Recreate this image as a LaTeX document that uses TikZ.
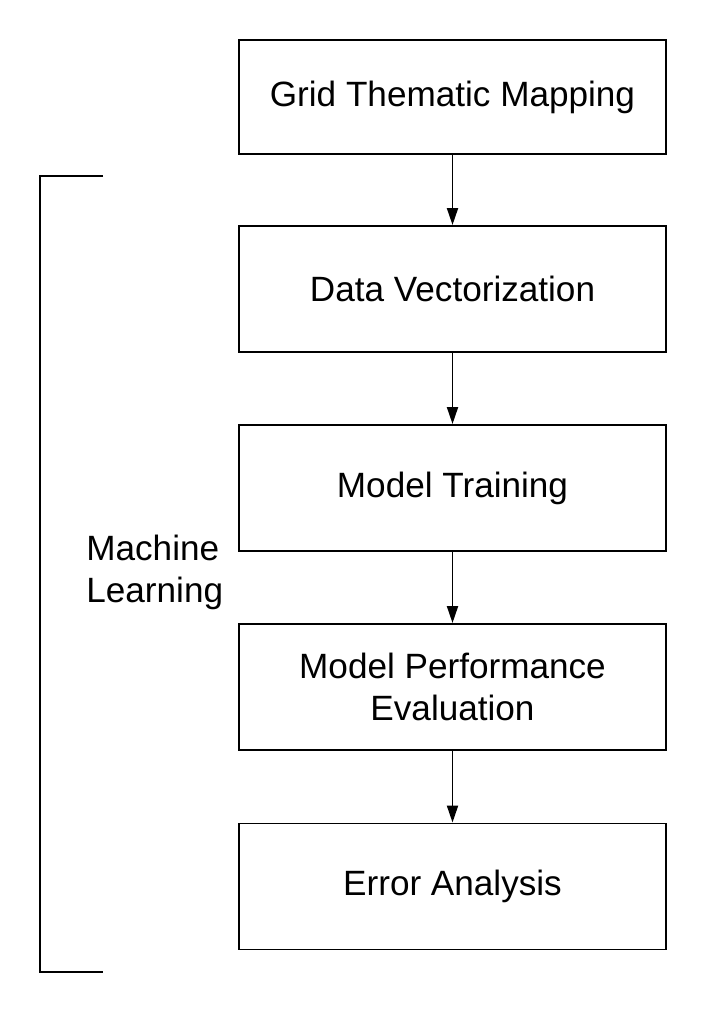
\documentclass[tikz,border=0pt]{standalone}
\usepackage{fontspec}
\setmainfont{Liberation Sans}
\usetikzlibrary{arrows.meta}

\begin{document}
\begin{tikzpicture}[x=0.02cm,y=-0.02cm,every node/.style={inner sep=0pt},
    stagebox/.style={draw,line width=1.1pt,minimum width=8.54cm,align=center,font=\fontsize{20}{24}\selectfont},
    flow/.style={line width=1.1pt,-{Triangle[length=0.34cm,width=0.22cm]}},
    bracket/.style={line width=1.1pt}]
  \useasboundingbox (0,0) rectangle (720,1013);
  %Notation: {node name / centre y / box height / text}
  \foreach \name/\ypos/\boxh/\txt in {grid/97/114/{Grid Thematic Mapping},
      vect/289/126/{Data Vectorization},
      train/488/126/{Model Training},
      perf/687/126/{Model Performance\\Evaluation},
      error/886.5/126/{Error Analysis}}{
    \node[stagebox,minimum height=\boxh*0.02cm] (\name) at (452.5,\ypos) {\txt};% Draw the stage
  }
  % Arrows between the stages
  \foreach \a/\b in {grid/vect, vect/train, train/perf, perf/error}{
    \draw[flow] (\a) -- (\b);
  }
  % Bracket with its label
  \coordinate (mltop) at (103,176);
  \coordinate (mlbot) at (103,972);
  \draw[bracket] (mltop) -- (40,176) |- (mlbot);
  \node[anchor=west,align=left,font=\fontsize{20}{24}\selectfont] (ml) at (86,572) {Machine\\Learning};
\end{tikzpicture}
\end{document}
